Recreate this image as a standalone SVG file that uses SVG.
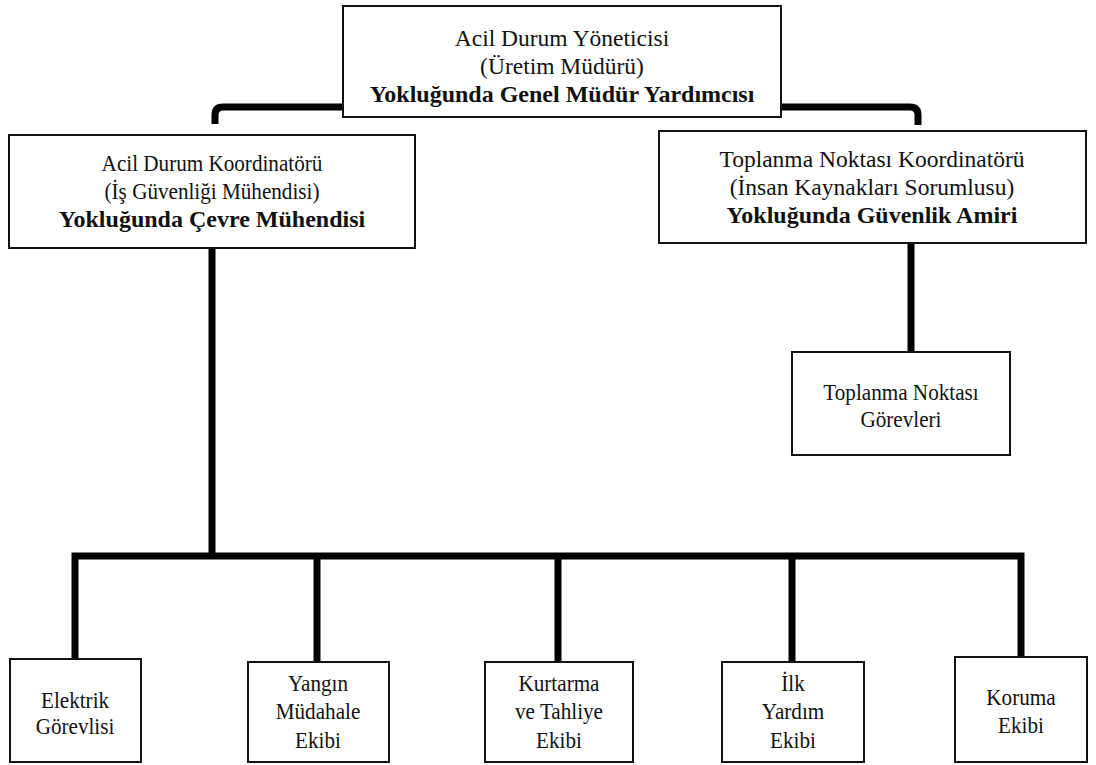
<svg xmlns="http://www.w3.org/2000/svg" width="1096" height="765" viewBox="0 0 1096 765">
  <style>
    .box { fill: #ffffff; stroke: #111111; stroke-width: 2; }
    .wire { fill: none; stroke: #000000; stroke-width: 7; stroke-linejoin: miter; }
    text { font-family: "Liberation Serif", "Times New Roman", serif; font-size: 23.5px; fill: #111111; text-anchor: middle; }
    /* narrow set: full glyph height, tighter advance */
    .s { transform-box: fill-box; transform-origin: center; transform: scaleX(0.9); }
    .b { font-weight: bold; font-size: 24px; }
  </style>
  <rect width="1096" height="765" fill="#ffffff"/>

  <!-- connectors -->
  <g id="connectors">
    <path class="wire" d="M343,107 H223 Q215,107 215,115 V124"/>
    <path class="wire" d="M781,107 H910 Q918,107 918,115 V125"/>
    <path class="wire" d="M212,248 V556"/>
    <path class="wire" d="M911,243 V352"/>
    <path class="wire" d="M75,660 V556 H1021 V658"/>
    <path class="wire" d="M317,556 V663"/>
    <path class="wire" d="M558,556 V663"/>
    <path class="wire" d="M792,556 V663"/>
  </g>

  <g id="yonetici">
    <rect class="box" x="343" y="6" width="438" height="111"/>
    <text x="562" y="46">Acil Durum Yöneticisi</text>
    <text x="562" y="74">(Üretim Müdürü)</text>
    <text class="b" x="562" y="102">Yokluğunda Genel Müdür Yardımcısı</text>
  </g>

  <g id="koordinator">
    <rect class="box" x="9" y="135" width="406" height="113"/>
    <text class="s" x="212" y="171">Acil Durum Koordinatörü</text>
    <text class="s" x="212" y="199">(İş Güvenliği Mühendisi)</text>
    <text class="b" x="212" y="227">Yokluğunda Çevre Mühendisi</text>
  </g>

  <g id="toplanma-koordinator">
    <rect class="box" x="659" y="131" width="427" height="112"/>
    <text x="872" y="167">Toplanma Noktası Koordinatörü</text>
    <text x="872" y="195">(İnsan Kaynakları Sorumlusu)</text>
    <text class="b" x="872" y="223">Yokluğunda Güvenlik Amiri</text>
  </g>

  <g id="toplanma-gorevleri">
    <rect class="box" x="792" y="352" width="218" height="103"/>
    <text class="s" x="901" y="400">Toplanma Noktası</text>
    <text class="s" x="901" y="427">Görevleri</text>
  </g>

  <g id="elektrik">
    <rect class="box" x="10" y="659" width="131" height="103"/>
    <text class="s" x="75" y="708">Elektrik</text>
    <text class="s" x="75" y="734">Görevlisi</text>
  </g>

  <g id="yangin">
    <rect class="box" x="248" y="662" width="141" height="100"/>
    <text class="s" x="318" y="691">Yangın</text>
    <text class="s" x="318" y="719">Müdahale</text>
    <text class="s" x="318" y="748">Ekibi</text>
  </g>

  <g id="kurtarma">
    <rect class="box" x="485" y="662" width="148" height="100"/>
    <text class="s" x="559" y="691">Kurtarma</text>
    <text class="s" x="559" y="719">ve Tahliye</text>
    <text class="s" x="559" y="748">Ekibi</text>
  </g>

  <g id="ilk-yardim">
    <rect class="box" x="722" y="662" width="142" height="100"/>
    <text class="s" x="793" y="691">İlk</text>
    <text class="s" x="793" y="719">Yardım</text>
    <text class="s" x="793" y="748">Ekibi</text>
  </g>

  <g id="koruma">
    <rect class="box" x="955" y="657" width="132" height="105"/>
    <text class="s" x="1021" y="705">Koruma</text>
    <text class="s" x="1021" y="733">Ekibi</text>
  </g>
</svg>
